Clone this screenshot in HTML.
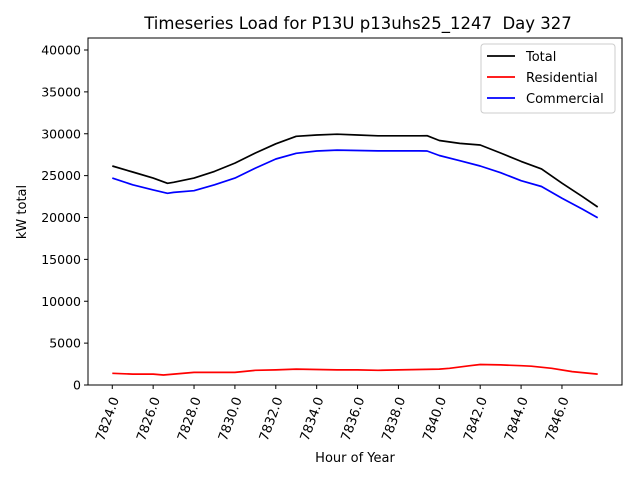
<!DOCTYPE html>
<html><head><meta charset="utf-8"><style>
body{margin:0;background:#fff;}
svg{display:block;font-family:"DejaVu Sans","Liberation Sans",sans-serif;}
text{white-space:pre;}
</style></head><body>
<svg id="chart" width="640" height="480">
</svg>
<script>
const hours = [7824,7825,7826,7826.7,7827,7828,7829,7830,7831,7832,7833,7834,7835,7836,7837,7838,7839,7839.4,7840,7841,7842,7843,7844,7845,7846,7847,7847.75];
const totalVals = [26150,25430,24700,24080,24200,24700,25500,26500,27700,28800,29700,29850,29950,29850,29750,29750,29750,29770,29200,28850,28660,27700,26700,25800,24100,22500,21250];
const commercialVals = [24700,23900,23300,22890,23000,23200,23900,24700,25900,26980,27660,27940,28050,28000,27950,27950,27950,27940,27400,26780,26150,25350,24400,23700,22300,21000,19980];
const resHours = [7824,7825,7826,7826.5,7827,7828,7829,7830,7831,7832,7833,7834,7835,7836,7837,7838,7839,7840,7840.5,7841.5,7842,7843,7844,7844.5,7845.5,7846.5,7847.75];
const residentialVals = [1400,1300,1300,1200,1300,1500,1500,1500,1750,1800,1900,1850,1800,1800,1750,1800,1850,1900,2000,2300,2450,2400,2300,2250,2000,1600,1300];
const xTicks = [7824,7826,7828,7830,7832,7834,7836,7838,7840,7842,7844,7846];
const yTicks = [0,5000,10000,15000,20000,25000,30000,35000,40000];

const L=88,R=622,T=38,B=385;
const x0=7824-1.1875, x1=7847.75+1.1875, yMax=41433;
const sx=v=>L+(v-x0)/(x1-x0)*(R-L);
const sy=v=>B-v/yMax*(B-T);
const svg=document.getElementById('chart');
const NS='http://www.w3.org/2000/svg';
function mk(tag,attrs,parent){const e=document.createElementNS(NS,tag);for(const k in attrs)e.setAttribute(k,attrs[k]);(parent||svg).appendChild(e);return e;}

const title=mk('text',{x:358,y:29,'text-anchor':'middle','font-size':16.5});
title.textContent='Timeseries Load for P13U p13uhs25_1247  Day 327';



function line(xs,ys,color,name){
  const d=xs.map((h,i)=>(i?'L':'M')+sx(h).toFixed(1)+','+sy(ys[i]).toFixed(1)).join('');
  const p=mk('path',{d:d,fill:'none',stroke:color,'stroke-width':1.7,'stroke-linejoin':'round'});
  
  
}
line(hours,totalVals,'#000','total-line');
line(resHours,residentialVals,'#ff0000','residential-line');
line(hours,commercialVals,'#0000ff','commercial-line');

const frame=mk('rect',{x:L,y:T,width:R-L,height:B-T,fill:'none',stroke:'#000','stroke-width':1});



xTicks.forEach(t=>{
  const x=sx(t);
  mk('line',{x1:x,x2:x,y1:B,y2:B+4,stroke:'#000'});
  const tx=mk('text',{x:x+7,y:B+14,'text-anchor':'end','font-size':13,transform:`rotate(-70 ${x+7} ${B+14})`});
  tx.textContent=t.toFixed(1);
  
  
});
yTicks.forEach(t=>{
  const y=sy(t);
  mk('line',{x1:L-4,x2:L,y1:y,y2:y,stroke:'#000'});
  const tx=mk('text',{x:L-7,y:y+4.5,'text-anchor':'end','font-size':12.5});
  tx.textContent=t;
  
  
});
const xl=mk('text',{x:355,y:462,'text-anchor':'middle','font-size':13});
xl.textContent='Hour of Year';


const yl=mk('text',{x:26,y:212,'text-anchor':'middle','font-size':13,transform:'rotate(-90 26 212)'});
yl.textContent='kW total';



const lg=mk('g',{});


mk('rect',{x:481,y:44,width:134,height:69,fill:'#fff',stroke:'#ccc',rx:3},lg);
[['Total','#000'],['Residential','#ff0000'],['Commercial','#0000ff']].forEach((e,i)=>{
  const y=56+i*21;
  const g=mk('g',{},lg);
  
  
  mk('line',{x1:487,x2:515,y1:y,y2:y,stroke:e[1],'stroke-width':1.7},g);
  const t=mk('text',{x:526,y:y+5,'font-size':13},g);
  t.textContent=e[0];
});
</script>
</body></html>
